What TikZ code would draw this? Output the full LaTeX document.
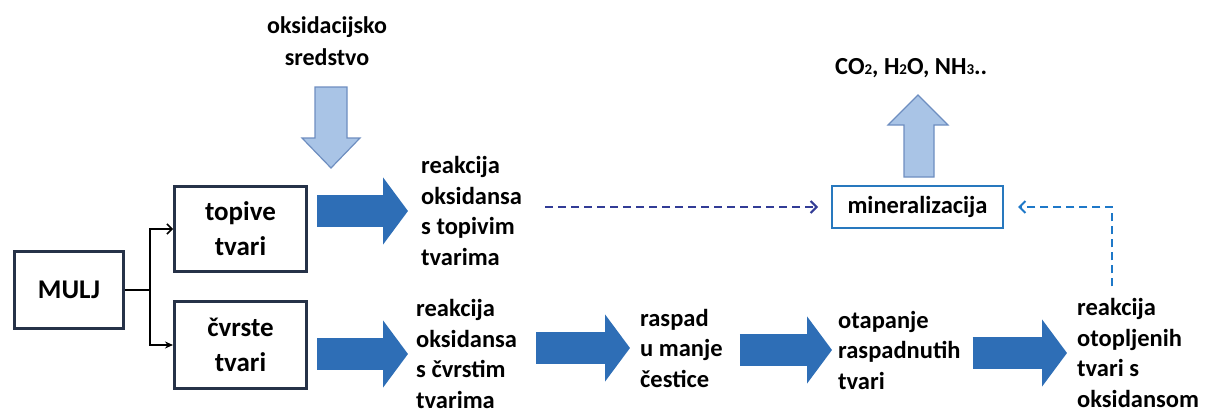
\documentclass[tikz,border=0pt]{standalone}
\usepackage{fontspec}
\setmainfont{Carlito}
\usetikzlibrary{positioning,arrows.meta}

\definecolor{boxline}{RGB}{38,50,72}
\definecolor{darkarrow}{RGB}{46,110,182}
\definecolor{lightfill}{RGB}{169,196,230}
\definecolor{lightline}{RGB}{110,142,192}
\definecolor{minline}{RGB}{40,120,190}
\definecolor{dashnavy}{RGB}{50,60,150}
\definecolor{dashblue}{RGB}{30,120,200}

\tikzset{
  box/.style={draw=boxline, line width=3pt, inner sep=0pt, align=center,
    font=\fontsize{27}{35}\selectfont\bfseries},
  txt/.style={anchor=west, inner sep=0pt, align=left,
    font=\fontsize{24.5}{30.5}\selectfont\bfseries},
  fatarrow/.style={darkarrow, line width=32pt, -{Triangle[length=25pt,width=66pt]}},
  lightarr/.style={fill=lightfill, draw=lightline, line width=1.2pt, line join=miter},
  dashline/.style={line width=2pt, dash pattern=on 8pt off 5pt,
    -{Straight Barb[length=6pt,width=12pt,line width=2pt]}},
  splitline/.style={line width=1.5pt, black}
}

\begin{document}
\begin{tikzpicture}[x=1pt,y=-1pt]
  \useasboundingbox (0,0) rectangle (1206,412);

  % boxes
  \node[box, minimum width=109pt, minimum height=77pt] (mulj) at (69,290) {MULJ};
  \node[box, minimum width=132pt, minimum height=85pt] (topive) at (240.5,229) {topive\\tvari};
  \node[box, minimum width=132pt, minimum height=87pt] (cvrste) at (240.5,345) {čvrste\\tvari};
  \node[draw=minline, line width=2pt, inner sep=0pt, minimum width=171pt, minimum height=42pt,
    font=\fontsize{24.5}{30.5}\selectfont\bfseries] (miner) at (917.5,207) {mineralizacija};

  % texts
  \node[txt, anchor=center, align=center, font=\fontsize{24}{32}\selectfont\bfseries] (oks) at (327,41) {oksidacijsko\\sredstvo};
  \node[txt] (prod) at (835,68) {CO{\fontsize{15}{15}\selectfont 2}, H{\fontsize{15}{15}\selectfont 2}O, NH{\fontsize{15}{15}\selectfont 3}..};
  \node[txt] (r1) at (421,211) {reakcija\\oksidansa\\s topivim\\tvarima};
  \node[txt] (r2) at (416,354) {reakcija\\oksidansa\\s čvrstim\\tvarima};
  \node[txt] (raspad) at (640,348) {raspad\\u manje\\čestice};
  \node[txt] (otap) at (838,350) {otapanje\\raspadnutih\\tvari};
  \node[txt] (r3) at (1077,353) {reakcija\\otopljenih\\tvari s\\oksidansom};

  % split from MULJ
  \draw[splitline] (mulj.east) -- ++(25,0) coordinate (split);
  \draw[splitline, -{Straight Barb[length=5pt,width=10pt]}] (split) |- (topive.west);
  \draw[splitline, -{Stealth[length=8pt,width=7pt]}] (split) |- (cvrste.west);

  % big arrows
  \draw[fatarrow, shorten <=9pt, shorten >=13pt] (topive.east |- r1.west) -- (r1.west);
  \draw[fatarrow, shorten <=9pt, shorten >=8pt] (cvrste.east |- r2.west) -- (r2.west);
  \draw[fatarrow, shorten <=19pt, shorten >=10pt] (r2.east |- raspad.west) -- (raspad.west);
  \draw[fatarrow, shorten <=17pt, shorten >=6pt] (raspad.east |- otap.west) -- (otap.west);
  \draw[fatarrow, shorten <=12pt, shorten >=10pt] (otap.east |- r3.west) -- (r3.west);

  % light arrows
  \draw[lightarr] (315,87) -- (347,87) -- (347,138) -- (360,138) -- (331,168) -- (302,138) -- (315,138) -- cycle;
  \draw[lightarr] (904,177) -- (934,177) -- (934,125) -- (948,125) -- (918,95) -- (888,125) -- (904,125) -- cycle;

  % dashed
  \draw[dashline, dashnavy, shorten <=23pt, shorten >=13pt] (r1.east |- miner.west) -- (miner.west);
  \draw[dashline, dashblue, shorten >=14pt] ([xshift=35pt,yshift=12pt]r3.north west) |- (miner.east);

\end{tikzpicture}
\end{document}
